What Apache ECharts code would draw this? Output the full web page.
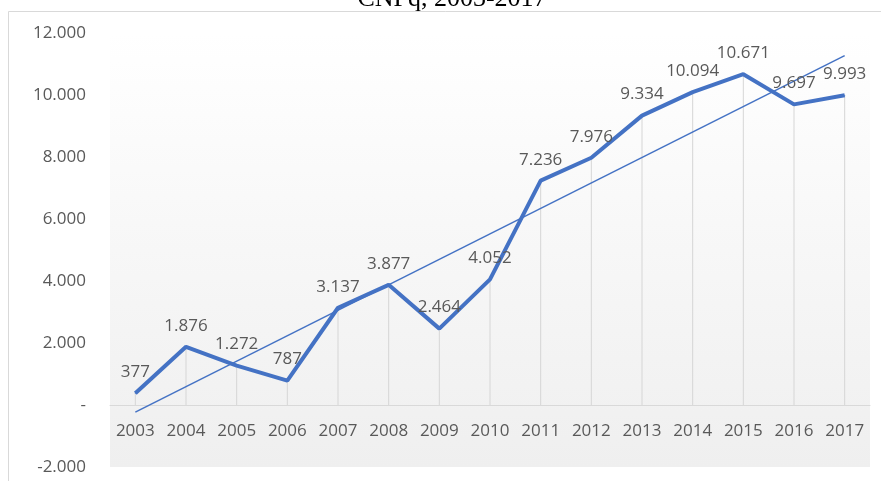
<!DOCTYPE html>
<html>
<head>
<meta charset="utf-8">
<script src="https://cdn.jsdelivr.net/npm/echarts@6/dist/echarts.min.js"></script>
<style>
  html, body { margin: 0; padding: 0; background: #fff; }
  #chart { width: 881px; height: 481px; }
</style>
</head>
<body>
<div id="chart"></div>
<script>
  // anos e valores
  var years = ['2003', '2004', '2005', '2006', '2007', '2008', '2009', '2010',
               '2011', '2012', '2013', '2014', '2015', '2016', '2017'];
  var values = [377, 1876, 1272, 787, 3137, 3877, 2464, 4052,
                7236, 7976, 9334, 10094, 10671, 9697, 9993];
  // linha de tendência: valores no primeiro e no último ano
  var trendEnds = [-230, 11270];

  var trendData = years.map(function (y, i) {
    if (i === 0) return trendEnds[0];
    if (i === years.length - 1) return trendEnds[1];
    return null;
  });

  function fmt(v) {
    if (v === 0) return '-';
    var s = Math.abs(v).toString().replace(/\B(?=(\d{3})+(?!\d))/g, '.');
    return (v < 0 ? '-' : '') + s;
  }

  var font = '"Open Sans", sans-serif';
  var chart = echarts.init(document.getElementById('chart'));
  var option = {
    animation: false,
    graphic: [
      {
        type: 'rect',
        z: -10,
        shape: { x: 8.5, y: 11.5, width: 900, height: 500 },
        style: { fill: '#fff', stroke: '#d9d9d9', lineWidth: 1 }
      },
      {
        type: 'text',
        x: 452,
        y: 12,
        style: {
          text: 'CNPq, 2003-2017',
          font: '26px "Liberation Serif", serif',
          fill: '#000',
          textAlign: 'center',
          textVerticalAlign: 'bottom'
        }
      }
    ],
    grid: {
      show: true,
      left: 110,
      right: 11,
      top: 33,
      bottom: 14,
      containLabel: false,
      outerBoundsMode: 'none',
      borderWidth: 0,
      backgroundColor: new echarts.graphic.LinearGradient(0, 0, 0, 1, [
        { offset: 0, color: '#ffffff' },
        { offset: 1, color: '#efefef' }
      ])
    },
    xAxis: {
      type: 'category',
      data: years,
      boundaryGap: true,
      axisLine: { onZero: true, lineStyle: { color: '#d9d9d9', width: 1 } },
      axisTick: { show: false },
      axisLabel: {
        margin: -44,
        color: '#595959',
        fontSize: 17,
        fontFamily: font
      },
      splitLine: { show: false }
    },
    yAxis: {
      type: 'value',
      min: -2000,
      max: 12000,
      interval: 2000,
      axisLine: { show: false },
      axisTick: { show: false },
      splitLine: { show: false },
      axisLabel: {
        margin: 24,
        color: '#595959',
        fontSize: 17,
        fontFamily: font,
        formatter: fmt
      }
    },
    series: [
      {
        name: 'drop',
        type: 'bar',
        data: values,
        barWidth: 1,
        itemStyle: { color: '#d6d6d6' },
        silent: true,
        z: 1
      },
      {
        name: 'tendência',
        type: 'line',
        data: trendData,
        connectNulls: true,
        symbol: 'none',
        lineStyle: { color: '#4472C4', width: 1.5 },
        z: 3
      },
      {
        name: 'valores',
        type: 'line',
        data: values,
        symbol: 'circle',
        symbolSize: 1,
        itemStyle: { color: '#4472C4' },
        lineStyle: { color: '#4472C4', width: 4 },
        label: {
          show: true,
          position: 'top',
          distance: 12,
          color: '#595959',
          fontSize: 17,
          fontFamily: font,
          formatter: function (p) { return fmt(p.value); }
        },
        z: 4
      }
    ]
  };
  chart.setOption(option);
</script>
</body>
</html>
